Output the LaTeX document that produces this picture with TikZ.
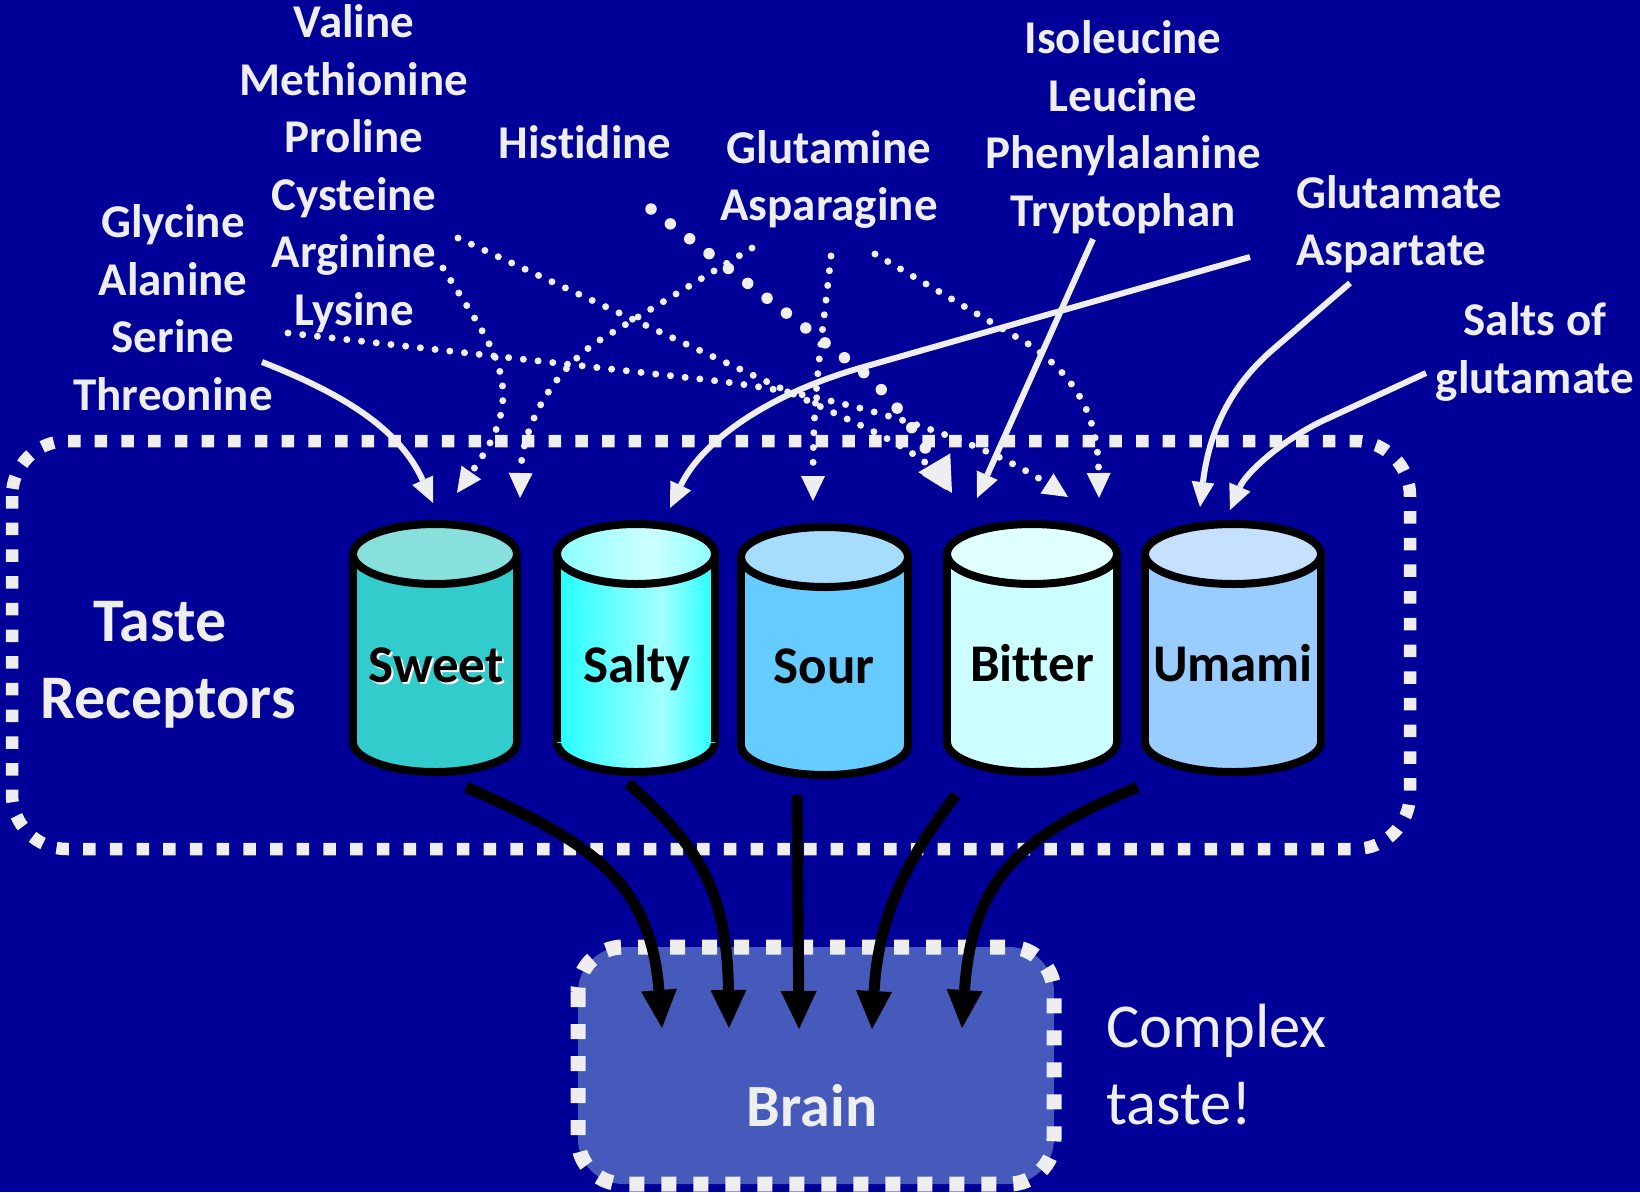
\documentclass[tikz,border=0pt]{standalone}
\usepackage{fontspec}
\setmainfont{Carlito}[Ligatures=NoCommon]
\usetikzlibrary{arrows.meta}
\definecolor{bg}{RGB}{0,0,153}
\definecolor{txt}{RGB}{238,238,238}
\definecolor{brainfill}{RGB}{70,90,187}
\definecolor{sweetbody}{RGB}{51,204,204}
\definecolor{sweettop}{RGB}{136,224,220}
\definecolor{saltyedge}{RGB}{34,255,255}
\definecolor{saltymid}{RGB}{165,255,255}
\definecolor{saltytopedge}{RGB}{140,255,255}
\definecolor{saltytopmid}{RGB}{205,255,255}
\definecolor{sourbody}{RGB}{102,204,255}
\definecolor{sourtop}{RGB}{166,221,255}
\definecolor{bitterbody}{RGB}{204,255,255}
\definecolor{bittertop}{RGB}{224,255,255}
\definecolor{umamibody}{RGB}{153,204,255}
\definecolor{umamitop}{RGB}{198,224,255}
\pgfdeclarehorizontalshading{saltybodyshade}{100bp}{color(0bp)=(saltyedge); color(25bp)=(saltyedge); color(58bp)=(saltymid); color(75bp)=(saltyedge); color(100bp)=(saltyedge)}
\pgfdeclarehorizontalshading{saltytopshade}{100bp}{color(0bp)=(saltytopedge); color(25bp)=(saltytopedge); color(55bp)=(saltytopmid); color(75bp)=(saltytopedge); color(100bp)=(saltytopedge)}
% cx, ytop, ybottom, rx, ry, body style, top style
\newcommand\tastecyl[7]{%
  \draw[cylline,#6] (#1,#3) ellipse[x radius=#4,y radius=#5];
  \path[#6] (#1-#4,#2) rectangle (#1+#4,#3);
  \draw[cylline] (#1-#4,#2) -- (#1-#4,#3) (#1+#4,#2) -- (#1+#4,#3);
  \draw[cylline,#7] (#1,#2) ellipse[x radius=#4,y radius=#5];
}
\begin{document}
\begin{tikzpicture}[x=1pt,y=-1pt,
  cylline/.style={draw=black,line width=8pt},
  lbl/.style={text=txt,font=\fontsize{47}{56}\selectfont\bfseries,inner sep=0pt,anchor=base},
  big/.style={text=txt,font=\fontsize{62}{75}\selectfont\bfseries,inner sep=0pt,anchor=base},
  cplx/.style={text=txt,font=\fontsize{62.5}{75}\selectfont,inner sep=0pt,anchor=base west},
  cyltxt/.style={text=black,font=\fontsize{53}{64}\selectfont\bfseries,inner sep=0pt,anchor=base},
  outerbox/.style={draw=txt,line width=12.5pt,dash pattern=on 12.5pt off 14.2pt,rounded corners=55pt},
  brainbox/.style={draw=txt,fill=brainfill,line width=15pt,dash pattern=on 15pt off 17pt,rounded corners=45pt},
  wharrow/.style={draw=txt,line width=6pt,-{Triangle[width=23pt,length=25pt,line width=0pt]}},
  dotarrow/.style={draw=txt,line width=7pt,line cap=round,dash pattern=on 0pt off 14.8pt,-{Triangle[width=24pt,length=25pt,line width=0pt]}},
  bigdotarrow/.style={draw=txt,line width=11.5pt,line cap=round,dash pattern=on 0pt off 24.4pt,-{Triangle[width=37pt,length=35pt,line width=0pt]}},
  blkarrow/.style={draw=black,line width=11pt,-{Triangle[width=36pt,length=38pt,line width=0pt]}}
]
\useasboundingbox (0,0) rectangle (1640,1192);
\fill[bg] (0,0) rectangle (1640,1192);

% boxes
\draw[outerbox] (12,441) rectangle (1410,849);
\draw[brainbox] (578,947) rectangle (1054,1184);

% cylinders
\tastecyl{435}{554}{742}{82}{30}{fill=sweetbody}{fill=sweettop}
\tastecyl{636}{554}{742}{79}{30}{shading=saltybodyshade}{shading=saltytopshade}
\tastecyl{824.5}{557}{745}{83.5}{30}{fill=sourbody}{fill=sourtop}
\tastecyl{1032}{554}{742}{85}{30}{fill=bitterbody}{fill=bittertop}
\tastecyl{1233}{554}{742}{88}{30}{fill=umamibody}{fill=umamitop}

\node[cyltxt,text=white] (sweetglow) at (438,684) {Sweet};
\node[cyltxt] (sweet) at (436,682) {Sweet};
\node[cyltxt] (salty) at (637,682) {Salty};
\node[cyltxt] (sour) at (824,683) {Sour};
\node[cyltxt] (bitter) at (1032,681) {Bitter};
\node[cyltxt] (umami) at (1233,681) {Umami};

% labels
\node[lbl] (valine) at (354,37.5) {Valine};
\node[lbl] (methionine) at (354,95) {Methionine};
\node[lbl] (proline) at (354,152.5) {Proline};
\node[lbl] (cysteine) at (354,210) {Cysteine};
\node[lbl] (arginine) at (354,267.5) {Arginine};
\node[lbl] (lysine) at (354,325) {Lysine};
\node[lbl] (glycine) at (173,237.5) {Glycine};
\node[lbl] (alanine) at (173,295) {Alanine};
\node[lbl] (serine) at (173,352.5) {Serine};
\node[lbl] (threonine) at (173,410) {Threonine};
\node[lbl] (histidine) at (585,158.5) {Histidine};
\node[lbl] (glutamine) at (829,163) {Glutamine};
\node[lbl] (asparagine) at (829,220.5) {Asparagine};
\node[lbl] (isoleucine) at (1123,53.5) {Isoleucine};
\node[lbl] (leucine) at (1123,111) {Leucine};
\node[lbl] (phenylalanine) at (1123,168.5) {Phenylalanine};
\node[lbl] (tryptophan) at (1123,226) {Tryptophan};
\node[lbl,anchor=base west] (glutamate) at (1296,208) {Glutamate};
\node[lbl,anchor=base west] (aspartate) at (1296,265.5) {Aspartate};
\node[lbl] (saltsof) at (1535,335.5) {Salts of};
\node[lbl] (glutamatesalt) at (1535,393) {glutamate};

\node[big] (taste) at (160,641.7) {Taste};
\node[big] (receptors) at (168,718.3) {Receptors};
\node[cplx] (complex) at (1106,1047.3) {Complex};
\node[cplx] (tastebang) at (1106,1124) {taste!};
\node[big,font=\fontsize{60}{72}\selectfont\bfseries] (brain) at (812,1126) {Brain};

% solid white arrows
\coordinate (s1a) at (262,362); \coordinate (s1b) at (433,503);
\draw[wharrow] (s1a) .. controls (346,395) and (400,430) .. (s1b);
\coordinate (s2a) at (1250,257); \coordinate (s2b) at (670,508);
\draw[wharrow] (s2a) -- (860,368) .. controls (760,397) and (700,445) .. (s2b);
\coordinate (s3a) at (1093,239); \coordinate (s3b) at (977,498);
\draw[wharrow] (s3a) -- (s3b);
\coordinate (s4a) at (1350,283); \coordinate (s4b) at (1200,507);
\draw[wharrow] (s4a) -- (1270,352) .. controls (1225,392) and (1208,440) .. (s4b);
\coordinate (s5a) at (1426,373); \coordinate (s5b) at (1230,510);
\draw[wharrow] (s5a) -- (1320,422) .. controls (1275,445) and (1245,475) .. (s5b);

% dotted arrows
\coordinate (d1a) at (443,268); \coordinate (d1b) at (457,493);
\draw[dotarrow] (d1a) .. controls (475,320) and (503,355) .. (503,395) .. controls (503,430) and (480,460) .. (d1b);
\coordinate (d2a) at (752,248); \coordinate (d2b) at (520,498);
\draw[dotarrow] (d2a) -- (600,340) .. controls (560,365) and (522,420) .. (d2b);
\coordinate (d3a) at (458,238); \coordinate (d3b) at (946,490);
\draw[dotarrow] (d3a) -- (860,425) .. controls (905,446) and (930,465) .. (d3b);
\coordinate (d4a) at (651,209); \coordinate (d4b) at (952,493);
\draw[bigdotarrow] (d4a) -- (863,372) .. controls (890,395) and (915,430) .. (d4b);
\coordinate (d5a) at (288,333); \coordinate (d5b) at (1068,497);
\draw[dotarrow] (d5a) -- (700,379) .. controls (850,395) and (980,440) .. (d5b);
\coordinate (d6a) at (831,256); \coordinate (d6b) at (813,501);
\draw[dotarrow] (d6a) .. controls (822,340) and (813,390) .. (d6b);
\coordinate (d7a) at (875,254); \coordinate (d7b) at (1099,498);
\draw[dotarrow] (d7a) -- (1030,345) .. controls (1080,380) and (1098,420) .. (d7b);

% black arrows to brain
\coordinate (b1a) at (466,787); \coordinate (b1b) at (662,1028);
\draw[blkarrow] (b1a) .. controls (590,842) and (650,880) .. (b1b);
\coordinate (b2a) at (628,783); \coordinate (b2b) at (729,1028);
\draw[blkarrow] (b2a) .. controls (690,840) and (727,880) .. (b2b);
\coordinate (b3a) at (797,795); \coordinate (b3b) at (799,1029);
\draw[blkarrow] (b3a) -- (b3b);
\coordinate (b4a) at (956,795); \coordinate (b4b) at (872,1029);
\draw[blkarrow] (b4a) .. controls (905,860) and (878,920) .. (b4b);
\coordinate (b5a) at (1138,787); \coordinate (b5b) at (962,1028);
\draw[blkarrow] (b5a) .. controls (1020,835) and (972,880) .. (b5b);
\end{tikzpicture}
\end{document}
